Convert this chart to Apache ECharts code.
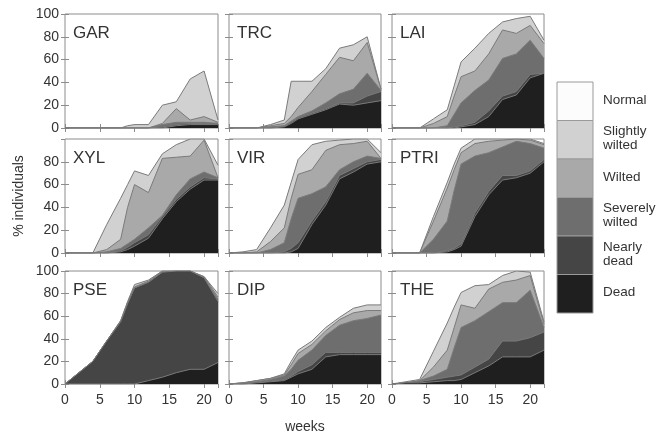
<!DOCTYPE html>
<html>
<head>
<meta charset="utf-8">
<script src="https://cdn.jsdelivr.net/npm/echarts@6/dist/echarts.min.js"></script>
<style>
  html, body { margin: 0; padding: 0; background: #ffffff; }
  #chart { width: 666px; height: 437px; }
</style>
</head>
<body>
<div id="chart"></div>
<script>
// Sampling weeks shared by all nine panels
const weeks = [0, 2, 4, 6, 8, 9, 10, 12, 14, 16, 18, 20, 22];

const panelNames = ['GAR', 'TRC', 'LAI', 'XYL', 'VIR', 'PTRI', 'PSE', 'DIP', 'THE'];
const stateNames = ['Normal', 'Slightly\nwilted', 'Wilted', 'Severely\nwilted', 'Nearly\ndead', 'Dead'];
const xTicks = [0, 5, 10, 15, 20];
const yTicks = [0, 20, 40, 60, 80, 100];

// Cumulative % of individuals in a given state or worse (upper edge of each band)
const GAR_dead   = [0, 0, 0, 0, 0, 0, 0, 0, 0, 2, 3, 3, 3];
const GAR_nearly = [0, 0, 0, 0, 0, 0, 0, 0, 1, 3, 4, 4, 4];
const GAR_severe = [0, 0, 0, 0, 0, 0, 0, 0, 3, 5, 5, 5, 4];
const GAR_wilted = [0, 0, 0, 0, 0, 0, 0, 0, 4, 17, 7, 10, 5];
const GAR_slight = [0, 0, 0, 0, 0, 2, 3, 3, 20, 23, 43, 50, 7];

const TRC_dead   = [0, 0, 0, 0, 1, 4, 8, 12, 16, 21, 20, 22, 24];
const TRC_nearly = [0, 0, 0, 0, 1, 5, 9, 13, 17, 22, 22, 28, 32];
const TRC_severe = [0, 0, 0, 1, 2, 6, 10, 15, 22, 30, 34, 48, 33];
const TRC_wilted = [0, 0, 0, 2, 4, 10, 18, 32, 47, 62, 59, 75, 34];
const TRC_slight = [0, 0, 0, 3, 7, 41, 41, 41, 52, 70, 73, 80, 34];

const LAI_dead   = [0, 0, 0, 0, 0, 0, 1, 3, 10, 25, 29, 44, 48];
const LAI_nearly = [0, 0, 0, 0, 0, 1, 2, 5, 15, 28, 32, 47, 48];
const LAI_severe = [0, 0, 0, 0, 2, 12, 22, 33, 42, 61, 65, 77, 61];
const LAI_wilted = [0, 0, 0, 4, 10, 28, 45, 50, 65, 86, 83, 90, 74];
const LAI_slight = [0, 0, 0, 8, 16, 37, 58, 70, 83, 93, 96, 98, 77];

const XYL_dead   = [0, 0, 0, 0, 1, 3, 6, 13, 30, 45, 56, 64, 64];
const XYL_nearly = [0, 0, 0, 0, 2, 5, 9, 16, 32, 47, 58, 66, 65];
const XYL_severe = [0, 0, 0, 1, 4, 8, 12, 22, 33, 51, 65, 71, 66];
const XYL_wilted = [0, 0, 0, 3, 12, 40, 60, 53, 83, 84, 85, 99, 66];
const XYL_slight = [0, 0, 0, 25, 48, 60, 72, 68, 87, 95, 100, 100, 77];

const VIR_dead   = [0, 0, 0, 0, 0, 1, 4, 25, 42, 65, 71, 78, 80];
const VIR_nearly = [0, 0, 0, 0, 1, 4, 9, 28, 45, 68, 74, 80, 82];
const VIR_severe = [0, 0, 0, 3, 9, 30, 48, 52, 58, 73, 80, 85, 83];
const VIR_wilted = [0, 0, 1, 10, 22, 48, 69, 73, 90, 95, 96, 98, 83];
const VIR_slight = [0, 1, 3, 22, 42, 62, 82, 95, 98, 99, 100, 100, 88];

const PTRI_dead   = [0, 0, 0, 0, 1, 3, 6, 32, 51, 64, 66, 70, 80];
const PTRI_nearly = [0, 0, 0, 0, 2, 4, 8, 35, 54, 68, 68, 72, 82];
const PTRI_severe = [0, 0, 0, 12, 28, 55, 78, 85, 88, 93, 98, 96, 92];
const PTRI_wilted = [0, 0, 0, 28, 57, 73, 88, 96, 98, 99, 100, 99, 95];
const PTRI_slight = [0, 0, 0, 32, 62, 78, 92, 100, 100, 100, 100, 100, 96];

const PSE_dead   = [0, 0, 0, 0, 0, 0, 0, 3, 6, 10, 13, 13, 19];
const PSE_nearly = [0, 10, 20, 38, 55, 71, 85, 90, 99, 100, 100, 94, 73];
const PSE_severe = [0, 10, 20, 38, 55, 71, 85, 90, 99, 100, 100, 94, 75];
const PSE_wilted = [0, 10, 20, 38, 56, 72, 86, 91, 100, 100, 100, 95, 77];
const PSE_slight = [0, 10, 20, 38, 56, 73, 88, 92, 100, 100, 100, 95, 80];

const DIP_dead   = [0, 0, 1, 2, 3, 6, 9, 13, 24, 26, 26, 26, 26];
const DIP_nearly = [0, 0, 1, 2, 4, 7, 11, 17, 28, 28, 28, 28, 28];
const DIP_severe = [0, 1, 2, 4, 7, 13, 21, 30, 43, 52, 56, 58, 61];
const DIP_wilted = [0, 1, 3, 5, 8, 17, 27, 35, 47, 57, 63, 65, 65];
const DIP_slight = [0, 1, 3, 5, 9, 20, 30, 38, 50, 59, 67, 70, 70];

const THE_dead   = [0, 1, 1, 2, 3, 3, 4, 10, 16, 24, 24, 24, 30];
const THE_nearly = [0, 1, 2, 4, 6, 7, 8, 15, 22, 38, 38, 41, 46];
const THE_severe = [0, 1, 3, 7, 13, 32, 50, 56, 64, 72, 72, 83, 50];
const THE_wilted = [0, 1, 3, 15, 30, 50, 70, 67, 84, 90, 92, 96, 53];
const THE_slight = [0, 2, 4, 29, 54, 68, 81, 87, 88, 96, 100, 99, 55];

// Bands per panel, drawn back to front: slightly wilted ... dead
const panelBands = [
  [GAR_slight, GAR_wilted, GAR_severe, GAR_nearly, GAR_dead],
  [TRC_slight, TRC_wilted, TRC_severe, TRC_nearly, TRC_dead],
  [LAI_slight, LAI_wilted, LAI_severe, LAI_nearly, LAI_dead],
  [XYL_slight, XYL_wilted, XYL_severe, XYL_nearly, XYL_dead],
  [VIR_slight, VIR_wilted, VIR_severe, VIR_nearly, VIR_dead],
  [PTRI_slight, PTRI_wilted, PTRI_severe, PTRI_nearly, PTRI_dead],
  [PSE_slight, PSE_wilted, PSE_severe, PSE_nearly, PSE_dead],
  [DIP_slight, DIP_wilted, DIP_severe, DIP_nearly, DIP_dead],
  [THE_slight, THE_wilted, THE_severe, THE_nearly, THE_dead]
];

// Greys for Normal, Slightly wilted, Wilted, Severely wilted, Nearly dead, Dead
const stateColors = ['#fcfcfc', '#d1d1d1', '#a9a9a9', '#6e6e6e', '#454545', '#1f1f1f'];

const FONT = '"Liberation Sans", Arial, sans-serif';
const TEXT = '#333333';
const FRAME = '#8c8c8c';

// Panel layout (px)
const colBoxes = [[65, 153], [229, 152], [392, 152]];
const rowBoxes = [[14, 114], [139, 114], [271, 113]];

const grids = [], xAxes = [], yAxes = [], series = [], titles = [];

panelNames.forEach((name, i) => {
  const r = Math.floor(i / 3), c = i % 3;
  const [left, width] = colBoxes[c];
  const [top, height] = rowBoxes[r];
  grids.push({ left, top, width, height, show: true, borderColor: FRAME, borderWidth: 1, backgroundColor: '#fff' });

  const tick = { show: true, inside: true, length: 4, lineStyle: { color: FRAME, width: 1 } };
  const showX = r === 2, showY = c === 0;
  const xBase = {
    type: 'value', gridIndex: i, min: 0, max: 22, interval: 5,
    axisLine: { show: false }, splitLine: { show: false }, axisTick: tick
  };
  xAxes.push(Object.assign({}, xBase, {
    position: 'bottom',
    axisLabel: { show: showX, showMaxLabel: false, margin: 9, fontSize: 14, fontFamily: FONT, color: TEXT,
                 formatter: v => xTicks.includes(v) ? String(v) : '' }
  }));
  xAxes.push(Object.assign({}, xBase, { position: 'top', axisLabel: { show: false } }));

  const yBase = {
    type: 'value', gridIndex: i, min: 0, max: 100, interval: 20,
    axisLine: { show: false }, splitLine: { show: false }, axisTick: tick
  };
  yAxes.push(Object.assign({}, yBase, {
    position: 'left',
    axisLabel: { show: showY, showMaxLabel: r !== 1, margin: 6, fontSize: 14, fontFamily: FONT, color: TEXT,
                 formatter: v => yTicks.includes(v) ? String(v) : '' }
  }));
  yAxes.push(Object.assign({}, yBase, { position: 'right', axisLabel: { show: false } }));

  panelBands[i].forEach((vals, b) => {
    series.push({
      type: 'line',
      xAxisIndex: 2 * i,
      yAxisIndex: 2 * i,
      data: weeks.map((w, k) => [w, vals[k]]),
      showSymbol: false,
      silent: true,
      lineStyle: { color: '#7a7a7a', width: 1 },
      areaStyle: { color: stateColors[b + 1], opacity: 1 },
      z: 2 + b
    });
  });

  titles.push({
    text: name,
    left: left + 8,
    top: top + 11,
    padding: 0,
    textStyle: { fontSize: 17, fontWeight: 'normal', fontFamily: FONT, color: TEXT }
  });
});

// Legend: stacked swatches with labels
const legendLeft = 557, legendTop = 82, swW = 36, swH = 38.5;
const graphics = [];
stateNames.forEach((s, k) => {
  graphics.push({
    type: 'rect',
    shape: { x: legendLeft, y: legendTop + k * swH, width: swW, height: swH },
    style: { fill: stateColors[k], stroke: '#9a9a9a', lineWidth: 1 }
  });
  graphics.push({
    type: 'text',
    x: legendLeft + 46,
    y: legendTop + k * swH + swH / 2 - 1,
    style: { text: s, font: '13.5px ' + FONT, fill: TEXT, textVerticalAlign: 'middle', lineHeight: 14 }
  });
});
graphics.push({
  type: 'text', x: 19, y: 196, rotation: Math.PI / 2,
  style: { text: '% individuals', font: '14px ' + FONT, fill: TEXT, textAlign: 'center', textVerticalAlign: 'middle' }
});
graphics.push({
  type: 'text', x: 305, y: 427,
  style: { text: 'weeks', font: '14px ' + FONT, fill: TEXT, textAlign: 'center', textVerticalAlign: 'middle' }
});

const chart = echarts.init(document.getElementById('chart'), null, { renderer: 'canvas' });
chart.setOption({
  animation: false,
  backgroundColor: '#ffffff',
  title: titles,
  grid: grids,
  xAxis: xAxes,
  yAxis: yAxes,
  series: series,
  graphic: graphics
});
</script>
</body>
</html>
